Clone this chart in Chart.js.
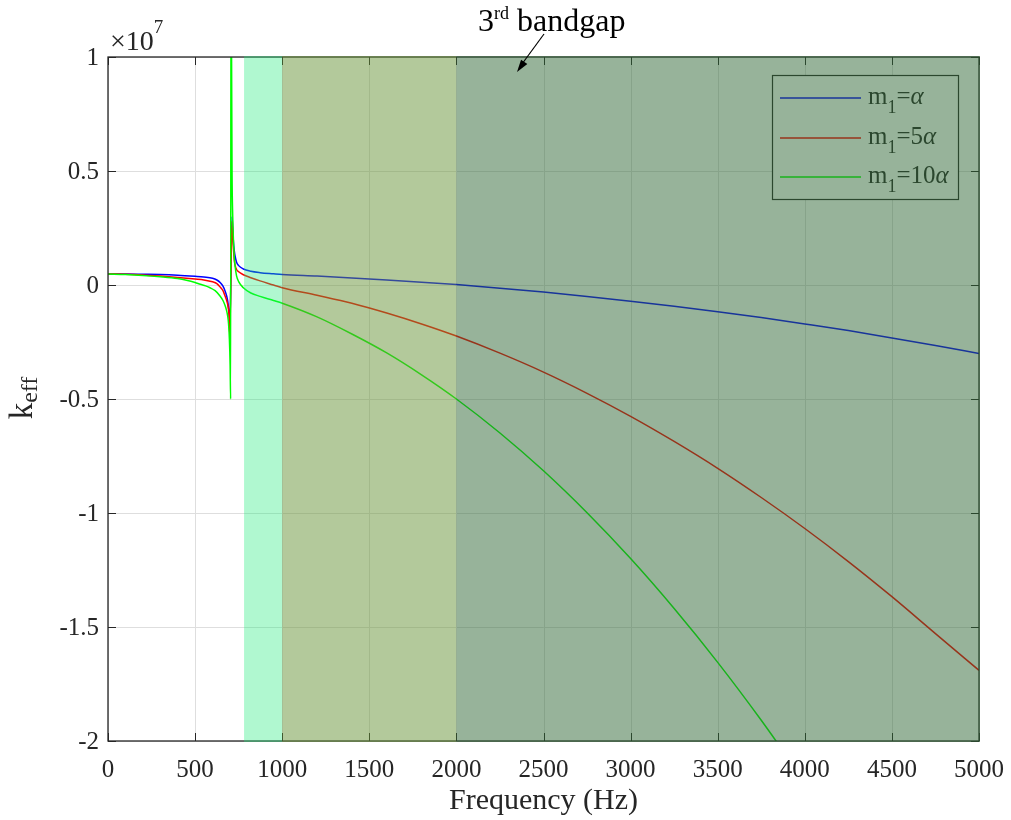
<!DOCTYPE html>
<html>
<head>
<meta charset="utf-8">
<script src="https://cdn.jsdelivr.net/npm/chart.js@4.4.0/dist/chart.umd.min.js"></script>
<style>
  body { margin: 0; background: #fff; }
  canvas { display: block; }
</style>
</head>
<body>
<canvas id="keffChart" width="1011" height="820"></canvas>
<script>
// Частоты (Гц) и k_eff (в единицах 1e7)
const freqBlue = [0,100,200,300,400,500,550,600,625,645,660,672,680,687,692,696,699,712,716,720,725,730,738,750,777,820,873,950,1000,1200,1400,1600,1800,2000,2250,2500,2750,3000,3250,3500,3750,4000,4250,4500,4750,5000];
const keffBlue = [0.048,0.048,0.047,0.046,0.043,0.038,0.035,0.03,0.022,0.01,-0.005,-0.026,-0.045,-0.07,-0.1,-0.13,-0.2,0.3,0.25,0.19,0.15,0.125,0.1,0.085,0.07,0.06,0.054,0.049,0.046,0.039,0.031,0.022,0.012,0.002,-0.014,-0.031,-0.05,-0.071,-0.093,-0.117,-0.143,-0.171,-0.2,-0.232,-0.265,-0.3];

const freqRed = freqBlue;
const keffRed = [0.048,0.047,0.044,0.039,0.033,0.026,0.022,0.014,0.006,-0.01,-0.025,-0.048,-0.065,-0.085,-0.11,-0.15,-0.22,0.28,0.22,0.16,0.11,0.085,0.068,0.058,0.045,0.032,0.018,0.0,-0.012,-0.045,-0.08,-0.123,-0.171,-0.224,-0.299,-0.382,-0.475,-0.576,-0.686,-0.804,-0.932,-1.068,-1.213,-1.367,-1.529,-1.69];

const freqGreen = [0,100,200,300,400,450,500,530,560,586,615,643,660,672,680,687,692,697,701,704,706,712,716,720,725,730,738,750,777,820,873,950,1000,1200,1400,1600,1800,2000,2250,2500,2750,3000,3250,3500,3750,4000];
const keffGreen = [0.048,0.046,0.042,0.036,0.028,0.021,0.011,0.003,-0.004,-0.012,-0.025,-0.048,-0.068,-0.09,-0.11,-0.136,-0.17,-0.24,-0.35,-0.5,1.5,0.5,0.3,0.2,0.12,0.08,0.04,0.015,-0.012,-0.035,-0.05,-0.068,-0.08,-0.14,-0.215,-0.298,-0.394,-0.5,-0.649,-0.815,-0.999,-1.2,-1.419,-1.655,-1.909,-2.18];

// Подписи осей и делений
const xTicks = [0,500,1000,1500,2000,2500,3000,3500,4000,4500,5000];
const yTicks = [1,0.5,0,-0.5,-1,-1.5,-2];
const yTickLabels = ['1','0.5','0','-0.5','-1','-1.5','-2'];

// Запрещённые зоны (Гц)
const bandStart = [781, 1000, 2000];
const bandEnd = [1000, 2000, 5000];

// Легенда: m_1 = <коэффициент>α
const legendCoef = ['', '5', '10'];

const lineColors = ['#0000ff', '#ff0000', '#00ff00'];
const bandColors = ['rgba(29,235,121,0.35)', 'rgba(103,147,55,0.5)', 'rgba(47,103,53,0.5)'];
const FONT = '"Liberation Serif", "Times New Roman", serif';
const AXIS = '#262626';

function toPoints(xs, ys) {
    return xs.map((x, i) => ({ x: x, y: ys[i] }));
}

// Рисует последовательность кусков текста (для индексов/степеней), возвращает ширину
function drawRuns(ctx, runs, x, y, align) {
    let total = 0;
    runs.forEach(r => {
        ctx.font = (r.italic ? 'italic ' : '') + r.size + 'px ' + FONT;
        r.w = ctx.measureText(r.t).width;
        total += r.w;
    });
    let cx = x;
    if (align === 'center') cx = x - total / 2;
    if (align === 'right') cx = x - total;
    ctx.textAlign = 'left';
    ctx.textBaseline = 'alphabetic';
    runs.forEach(r => {
        ctx.font = (r.italic ? 'italic ' : '') + r.size + 'px ' + FONT;
        ctx.fillText(r.t, cx, y + (r.dy || 0));
        cx += r.w;
    });
    return total;
}

const matlabPlugin = {
    id: 'matlabLook',
    beforeDatasetsDraw(chart) {
        // сетка
        const { ctx, chartArea: a, scales: { x, y } } = chart;
        ctx.save();
        ctx.strokeStyle = '#dedede';
        ctx.lineWidth = 1;
        ctx.beginPath();
        xTicks.forEach(v => {
            const px = Math.round(x.getPixelForValue(v)) + 0.5;
            ctx.moveTo(px, a.top); ctx.lineTo(px, a.bottom);
        });
        yTicks.forEach(v => {
            const py = Math.round(y.getPixelForValue(v)) + 0.5;
            ctx.moveTo(a.left, py); ctx.lineTo(a.right, py);
        });
        ctx.stroke();
        ctx.restore();
    },
    afterDatasetsDraw(chart) {
        const { ctx, chartArea: a, scales: { x, y } } = chart;
        ctx.save();

        // легенда
        const lx = 772, ly = 75, lw = 186, lh = 124;
        ctx.fillStyle = '#ffffff';
        ctx.fillRect(lx, ly, lw, lh);
        ctx.strokeStyle = AXIS;
        ctx.lineWidth = 1.2;
        ctx.strokeRect(lx + 0.5, ly + 0.5, lw, lh);
        const rowY = [98, 138, 177];
        legendCoef.forEach((c, i) => {
            ctx.strokeStyle = lineColors[i];
            ctx.lineWidth = 1.5;
            ctx.beginPath();
            ctx.moveTo(780, rowY[i]); ctx.lineTo(861, rowY[i]);
            ctx.stroke();
            ctx.fillStyle = AXIS;
            drawRuns(ctx, [
                { t: 'm', size: 25 },
                { t: '1', size: 18, dy: 9 },
                { t: '=' + c, size: 25 },
                { t: 'α', size: 25, italic: true }
            ], 868, rowY[i] + 6, 'left');
        });

        // рамка осей и внутренние деления
        ctx.strokeStyle = AXIS;
        ctx.lineWidth = 1.3;
        ctx.strokeRect(a.left, a.top, a.right - a.left, a.bottom - a.top);
        ctx.lineWidth = 1;
        ctx.beginPath();
        xTicks.forEach(v => {
            const px = Math.round(x.getPixelForValue(v)) + 0.5;
            ctx.moveTo(px, a.bottom); ctx.lineTo(px, a.bottom - 8);
            ctx.moveTo(px, a.top); ctx.lineTo(px, a.top + 8);
        });
        yTicks.forEach(v => {
            const py = Math.round(y.getPixelForValue(v)) + 0.5;
            ctx.moveTo(a.left, py); ctx.lineTo(a.left + 8, py);
            ctx.moveTo(a.right, py); ctx.lineTo(a.right - 8, py);
        });
        ctx.stroke();

        // полупрозрачные зоны поверх всего
        bandStart.forEach((s, i) => {
            const x0 = x.getPixelForValue(s);
            const x1 = x.getPixelForValue(bandEnd[i]) + (i === bandStart.length - 1 ? 1 : 0);
            ctx.fillStyle = bandColors[i];
            ctx.fillRect(x0, a.top - 1, x1 - x0, a.bottom - a.top + 2);
        });
        ctx.restore();
    },
    afterDraw(chart) {
        const { ctx, chartArea: a, scales: { x, y } } = chart;
        ctx.save();
        ctx.fillStyle = AXIS;

        // подписи делений
        ctx.font = '25px ' + FONT;
        ctx.textAlign = 'center';
        ctx.textBaseline = 'alphabetic';
        xTicks.forEach(v => {
            ctx.fillText(String(v), x.getPixelForValue(v), 777);
        });
        ctx.textAlign = 'right';
        ctx.textBaseline = 'middle';
        yTicks.forEach((v, i) => {
            ctx.fillText(yTickLabels[i], 99, y.getPixelForValue(v) + 1);
        });

        // множитель x10^7
        drawRuns(ctx, [
            { t: '×10', size: 28 },
            { t: '7', size: 19, dy: -17 }
        ], 110, 50, 'left');

        // подпись оси X
        drawRuns(ctx, [{ t: 'Frequency (Hz)', size: 30 }], (a.left + a.right) / 2, 809, 'center');

        // подпись оси Y (повернутая)
        ctx.save();
        ctx.translate(32, 398);
        ctx.rotate(-Math.PI / 2);
        drawRuns(ctx, [
            { t: 'k', size: 33 },
            { t: 'eff', size: 24, dy: 5 }
        ], 0, 0, 'center');
        ctx.restore();

        // заголовок со стрелкой
        ctx.fillStyle = '#000';
        drawRuns(ctx, [
            { t: '3', size: 32 },
            { t: 'rd', size: 18, dy: -12 },
            { t: ' bandgap', size: 32 }
        ], 478, 31, 'left');
        ctx.strokeStyle = '#000';
        ctx.lineWidth = 1.2;
        ctx.beginPath();
        ctx.moveTo(544, 34);
        ctx.lineTo(522, 64);
        ctx.stroke();
        const ang = Math.atan2(72 - 34, 517 - 544);
        ctx.beginPath();
        ctx.moveTo(517, 72);
        ctx.lineTo(517 - 13 * Math.cos(ang - 0.3), 72 - 13 * Math.sin(ang - 0.3));
        ctx.lineTo(517 - 13 * Math.cos(ang + 0.3), 72 - 13 * Math.sin(ang + 0.3));
        ctx.closePath();
        ctx.fill();
        ctx.restore();
    }
};

const ctx = document.getElementById('keffChart').getContext('2d');
const chart = new Chart(ctx, {
    type: 'line',
    data: {
        datasets: [
            { label: 'm1=α', data: toPoints(freqBlue, keffBlue), borderColor: lineColors[0], order: 2 },
            { label: 'm1=5α', data: toPoints(freqRed, keffRed), borderColor: lineColors[1], order: 1 },
            { label: 'm1=10α', data: toPoints(freqGreen, keffGreen), borderColor: lineColors[2], order: 0 }
        ]
    },
    options: {
        responsive: false,
        animation: false,
        devicePixelRatio: 1,
        layout: { padding: { top: 57, right: 32, left: 0, bottom: 0 } },
        elements: {
            point: { radius: 0 },
            line: { borderWidth: 1.5, cubicInterpolationMode: 'monotone' }
        },
        plugins: {
            legend: { display: false },
            tooltip: { enabled: false }
        },
        scales: {
            x: {
                type: 'linear',
                min: 0,
                max: 5000,
                ticks: { display: false },
                grid: { display: false },
                border: { display: false },
                afterFit: (s) => { s.height = 79; }
            },
            y: {
                min: -2,
                max: 1,
                ticks: { display: false },
                grid: { display: false },
                border: { display: false },
                afterFit: (s) => { s.width = 108; }
            }
        }
    },
    plugins: [matlabPlugin]
});
</script>
</body>
</html>
